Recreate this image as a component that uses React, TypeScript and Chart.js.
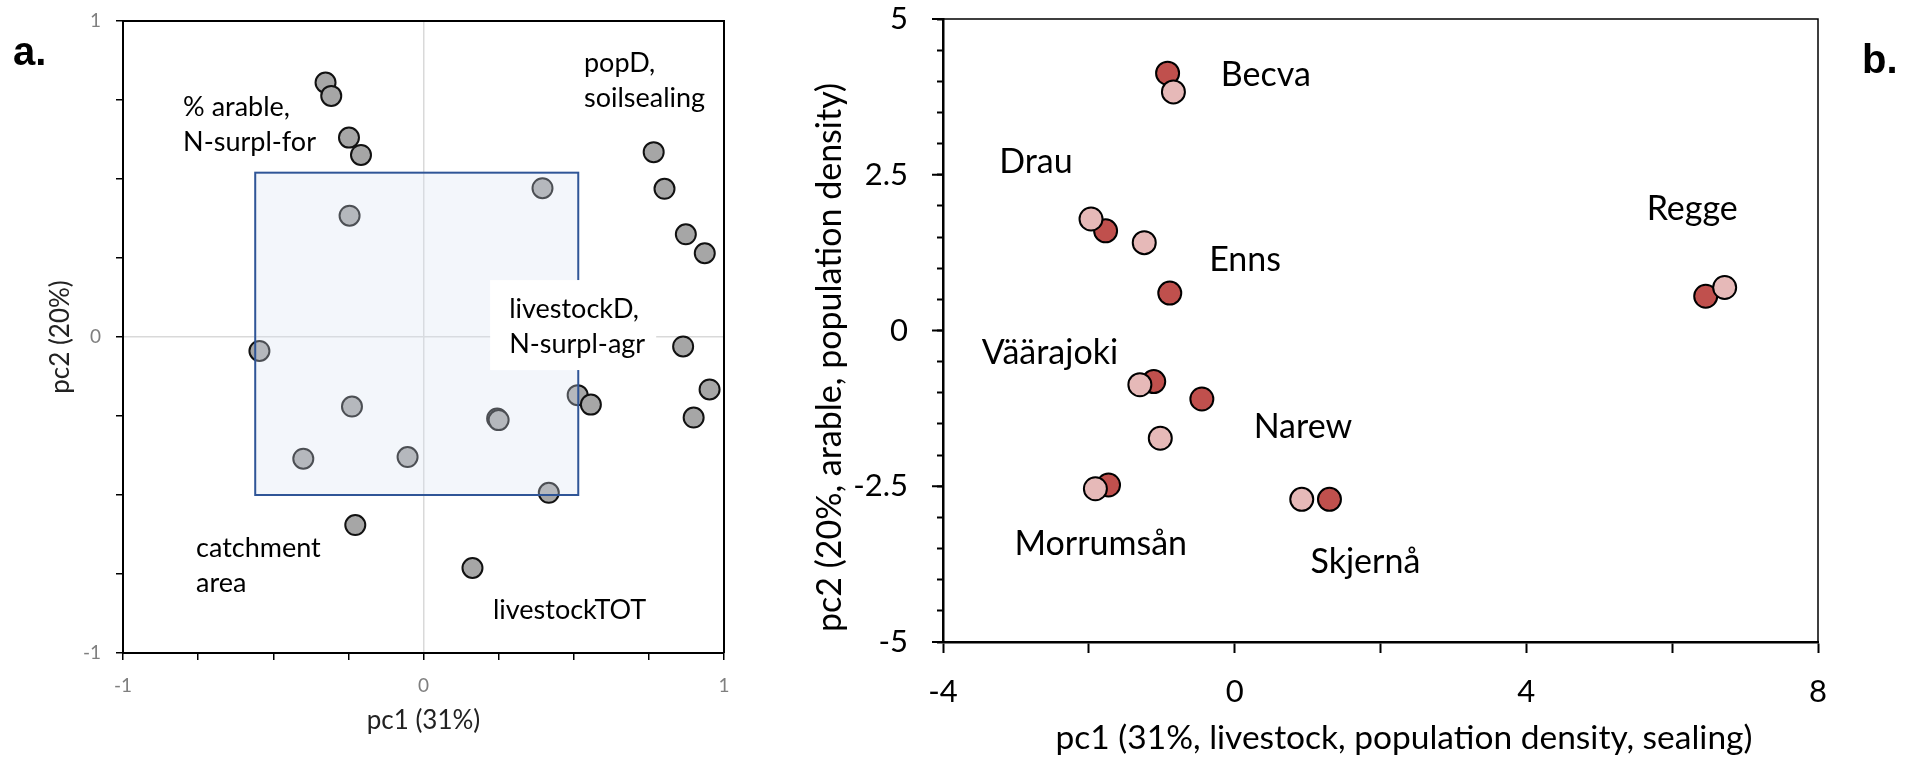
import React, { useEffect, useRef } from 'react';
import { Chart, registerables } from 'chart.js';

Chart.register(...registerables);

const FONT = 'Lato, "Open Sans", sans-serif';

// ---------- panel a: loadings ----------
const pc1Loadings = [-0.326, -0.307, -0.248, -0.208, -0.246, 0.396, 0.766, 0.802, 0.873, 0.936, 0.864, -0.546, 0.952, 0.513, 0.557, -0.238, 0.899, 0.245, 0.25, -0.4, -0.053, 0.417, -0.227, 0.163];
const pc2Loadings = [0.805, 0.763, 0.631, 0.576, 0.384, 0.471, 0.585, 0.469, 0.325, 0.265, -0.03, -0.044, -0.166, -0.184, -0.214, -0.22, -0.255, -0.258, -0.263, -0.385, -0.38, -0.493, -0.595, -0.731];

const boxX = [-0.56, 0.515];
const boxY = [-0.5, 0.52];

const loadingLabelLines = [
  ['% arable,', 'N-surpl-for'],
  ['popD,', 'soilsealing'],
  ['livestockD,', 'N-surpl-agr'],
  ['catchment', 'area'],
  ['livestockTOT'],
];
const loadingLabelX = [-0.8, 0.534, 0.285, -0.757, 0.231];
const loadingLabelY = [0.7, 0.839, 0.06, -0.696, -0.892];
const boxedLabelIndex = 2;

// ---------- panel b: scores ----------
const rivers = ['Becva', 'Drau', 'Enns', 'Väärajoki', 'Narew', 'Morrumsån', 'Skjernå', 'Regge'];
const scoreDarkX = [-0.92, -1.77, -0.89, -1.11, -0.45, -1.73, 1.3, 6.46];
const scoreDarkY = [4.13, 1.6, 0.6, -0.82, -1.1, -2.48, -2.71, 0.55];
const scoreLightX = [-0.84, -1.97, -1.24, -1.3, -1.02, -1.91, 0.92, 6.72];
const scoreLightY = [3.83, 1.79, 1.41, -0.87, -1.73, -2.54, -2.71, 0.69];
const riverLabelX = [-0.19, -3.23, -0.35, -3.47, 0.26, -3.02, 1.04, 5.65];
const riverLabelY = [3.92, 2.53, 0.96, -0.54, -1.73, -3.6, -3.89, 1.78];
const xTitleB = 'pc1 (31%, livestock, population density, sealing)';
const yTitleB = 'pc2 (20%, arable, population density)';

const noScalePadding = (s: any) => {
  s.paddingTop = 0;
  s.paddingBottom = 0;
  s.paddingLeft = 0;
  s.paddingRight = 0;
};

const panelAPlugin = {
  id: 'panelA',
  afterDatasetsDraw(chart: any) {
    const { ctx, chartArea: ca, scales } = chart;
    const x = scales.x, y = scales.y;
    ctx.save();
    const l = x.getPixelForValue(boxX[0]);
    const r = x.getPixelForValue(boxX[1]);
    const t = y.getPixelForValue(boxY[1]);
    const b = y.getPixelForValue(boxY[0]);
    ctx.fillStyle = 'rgba(214,226,242,0.3)';
    ctx.fillRect(l, t, r - l, b - t);
    ctx.strokeStyle = '#2f5597';
    ctx.lineWidth = 2;
    ctx.strokeRect(l, t, r - l, b - t);

    ctx.strokeStyle = '#000';
    ctx.lineWidth = 2;
    ctx.beginPath();
    ctx.moveTo(ca.left, ca.top);
    ctx.lineTo(ca.right, ca.top);
    ctx.lineTo(ca.right, ca.bottom);
    ctx.stroke();

    ctx.font = `27px ${FONT}`;
    ctx.textAlign = 'left';
    ctx.textBaseline = 'alphabetic';
    loadingLabelLines.forEach((lines, i) => {
      const px = x.getPixelForValue(loadingLabelX[i]);
      const py = y.getPixelForValue(loadingLabelY[i]);
      if (i === boxedLabelIndex) {
        const w = Math.max(...lines.map((s) => ctx.measureText(s).width));
        ctx.fillStyle = '#fff';
        ctx.fillRect(px - 19, py - 38, w + 30, (lines.length - 1) * 35 + 55);
      }
      ctx.fillStyle = '#000';
      lines.forEach((s, j) => ctx.fillText(s, px, py + j * 35));
    });

    ctx.font = 'bold 40px "Liberation Sans", Arial, sans-serif';
    ctx.fillStyle = '#000';
    ctx.fillText('a.', 13, 65);
    ctx.restore();
  },
};

const panelBPlugin = {
  id: 'panelB',
  afterDatasetsDraw(chart: any) {
    const { ctx, chartArea: ca, scales } = chart;
    const x = scales.x, y = scales.y;
    ctx.save();
    ctx.strokeStyle = '#000';
    ctx.lineWidth = 2;
    y.ticks.forEach((tk: any) => {
      if (Math.abs(tk.value / 2.5 - Math.round(tk.value / 2.5)) < 1e-9) {
        const py = y.getPixelForValue(tk.value);
        ctx.beginPath();
        ctx.moveTo(ca.left - 11, py);
        ctx.lineTo(ca.left, py);
        ctx.stroke();
      }
    });
    ctx.lineWidth = 1.5;
    ctx.beginPath();
    ctx.moveTo(ca.left, ca.top);
    ctx.lineTo(ca.right, ca.top);
    ctx.lineTo(ca.right, ca.bottom);
    ctx.stroke();

    ctx.font = `34px ${FONT}`;
    ctx.fillStyle = '#000';
    ctx.textAlign = 'left';
    ctx.textBaseline = 'alphabetic';
    rivers.forEach((name, i) => {
      ctx.fillText(name, x.getPixelForValue(riverLabelX[i]), y.getPixelForValue(riverLabelY[i]));
    });

    // axis titles, placed as in the original figure
    ctx.textAlign = 'center';
    ctx.textBaseline = 'middle';
    ctx.font = `33.5px ${FONT}`;
    ctx.fillText(xTitleB, 604, 738);

    ctx.save();
    ctx.translate(30, 357.5);
    ctx.rotate(-Math.PI / 2);
    ctx.font = `34px ${FONT}`;
    ctx.fillText(yTitleB, 0, 0);
    ctx.restore();

    ctx.font = 'bold 40px "Liberation Sans", Arial, sans-serif';
    ctx.textAlign = 'left';
    ctx.textBaseline = 'alphabetic';
    ctx.fillText('b.', 1062, 73);
    ctx.restore();
  },
};

export default function App() {
  const refA = useRef<HTMLCanvasElement>(null);
  const refB = useRef<HTMLCanvasElement>(null);

  useEffect(() => {
    const chartA = new Chart(refA.current as HTMLCanvasElement, {
      type: 'scatter',
      data: {
        datasets: [
          {
            data: pc1Loadings.map((v, i) => ({ x: v, y: pc2Loadings[i] })),
            backgroundColor: '#a6a6a6',
            borderColor: '#111',
            borderWidth: 2,
            pointRadius: 10,
            pointHoverRadius: 10,
          },
        ],
      },
      options: {
        animation: false,
        responsive: false,
        maintainAspectRatio: false,
        layout: { padding: { top: 21, right: 76, bottom: 0, left: 0 } },
        plugins: { legend: { display: false }, tooltip: { enabled: false } },
        scales: {
          x: {
            type: 'linear',
            min: -1,
            max: 1,
            ticks: {
              stepSize: 0.25,
              autoSkip: false,
              maxRotation: 0,
              padding: 14,
              color: '#7f7f7f',
              font: { family: FONT, size: 19 },
              callback: (v: any) => (Number.isInteger(v) ? String(v) : ''),
            },
            grid: {
              color: (c: any) => (c.tick && c.tick.value === 0 ? '#d9d9d9' : 'rgba(0,0,0,0)'),
              lineWidth: 1.5,
              tickColor: '#000',
              tickLength: 7,
              tickWidth: 1.5,
            },
            border: { color: '#000', width: 2 },
            title: {
              display: true,
              text: 'pc1 (31%)',
              color: '#222',
              font: { family: FONT, size: 26 },
              padding: { top: 0, bottom: 22 },
            },
            afterFit: (s: any) => {
              s.height = 105;
              noScalePadding(s);
            },
          },
          y: {
            type: 'linear',
            min: -1,
            max: 1,
            ticks: {
              stepSize: 0.25,
              autoSkip: false,
              padding: 15,
              color: '#7f7f7f',
              font: { family: FONT, size: 19 },
              callback: (v: any) => (Number.isInteger(v) ? String(v) : ''),
            },
            grid: {
              color: (c: any) => (c.tick && c.tick.value === 0 ? '#d9d9d9' : 'rgba(0,0,0,0)'),
              lineWidth: 1.5,
              tickColor: '#000',
              tickLength: 7,
              tickWidth: 1.5,
            },
            border: { color: '#000', width: 2 },
            title: {
              display: true,
              text: 'pc2 (20%)',
              color: '#222',
              font: { family: FONT, size: 26 },
              padding: { top: 45, bottom: 0 },
            },
            afterFit: (s: any) => {
              s.width = 123;
              noScalePadding(s);
            },
          },
        },
      },
      plugins: [panelAPlugin],
    } as any);

    const chartB = new Chart(refB.current as HTMLCanvasElement, {
      type: 'scatter',
      data: {
        datasets: [
          {
            data: scoreLightX.map((v, i) => ({ x: v, y: scoreLightY[i] })),
            backgroundColor: '#e6b9b8',
            borderColor: '#000',
            borderWidth: 2,
            pointRadius: 11.5,
            pointHoverRadius: 11.5,
            order: 0,
          },
          {
            data: scoreDarkX.map((v, i) => ({ x: v, y: scoreDarkY[i] })),
            backgroundColor: '#c0504d',
            borderColor: '#000',
            borderWidth: 2,
            pointRadius: 11.5,
            pointHoverRadius: 11.5,
            order: 1,
          },
        ],
      },
      options: {
        animation: false,
        responsive: false,
        maintainAspectRatio: false,
        layout: { padding: { top: 19, right: 96, bottom: 0, left: 0 } },
        plugins: { legend: { display: false }, tooltip: { enabled: false } },
        scales: {
          x: {
            type: 'linear',
            min: -4,
            max: 8,
            ticks: {
              stepSize: 2,
              autoSkip: false,
              maxRotation: 0,
              padding: 20,
              color: '#000',
              font: { family: FONT, size: 31 },
              callback: (v: any) => (v % 4 === 0 ? String(v) : ''),
            },
            grid: {
              drawOnChartArea: false,
              tickColor: '#000',
              tickLength: 11,
              tickWidth: 2,
            },
            border: { color: '#000', width: 2.5 },
            title: { display: false },
            afterFit: (s: any) => {
              s.height = 116;
              noScalePadding(s);
            },
          },
          y: {
            type: 'linear',
            min: -5,
            max: 5,
            ticks: {
              stepSize: 0.5,
              autoSkip: false,
              padding: 29,
              color: '#000',
              font: { family: FONT, size: 31 },
              callback: (v: any) => (Math.abs(v / 2.5 - Math.round(v / 2.5)) < 1e-9 ? String(v) : ''),
            },
            grid: {
              drawOnChartArea: false,
              tickColor: '#000',
              tickLength: 6,
              tickWidth: 2,
            },
            border: { color: '#000', width: 2.5 },
            title: { display: false },
            afterFit: (s: any) => {
              s.width = 143;
              noScalePadding(s);
            },
          },
        },
      },
      plugins: [panelBPlugin],
    } as any);

    return () => {
      chartA.destroy();
      chartB.destroy();
    };
  }, []);

  return (
    <div style={{ position: 'absolute', left: 0, top: 0, width: 1914, height: 758, background: '#fff', overflow: 'hidden' }}>
      <canvas ref={refA} width={800} height={758} style={{ position: 'absolute', left: 0, top: 0, width: 800, height: 758 }} />
      <canvas ref={refB} width={1114} height={758} style={{ position: 'absolute', left: 800, top: 0, width: 1114, height: 758 }} />
    </div>
  );
}
